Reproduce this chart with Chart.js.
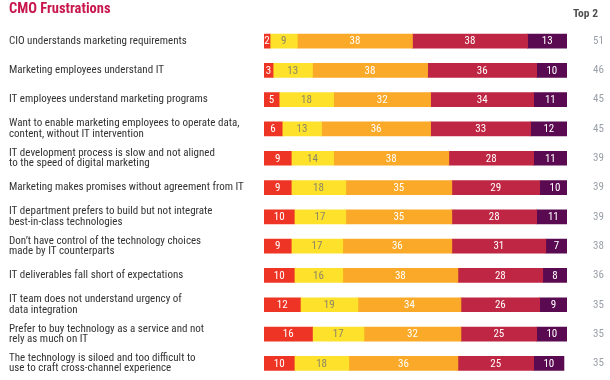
<!DOCTYPE html>
<html>
<head>
<meta charset="utf-8">
<script src="https://cdn.jsdelivr.net/npm/chart.js@4.4.1/dist/chart.umd.min.js"></script>
<style>
  body { margin: 0; background: #fff; }
  #wrap { width: 610px; height: 380px; }
</style>
</head>
<body>
<div id="wrap"><canvas id="cmoChart" width="610" height="380"></canvas></div>
<script>
const categories = [
    'CIO understands marketing requirements',
    'Marketing employees understand IT',
    'IT employees understand marketing programs',
    ['Want to enable marketing employees to operate data,', 'content, without IT intervention'],
    ['IT development process is slow and not aligned', 'to the speed of digital marketing'],
    'Marketing makes promises without agreement from IT',
    ['IT department prefers to build but not integrate', 'best-in-class technologies'],
    ["Don\u2019t have control of the technology choices", 'made by IT counterparts'],
    'IT deliverables fall short of expectations',
    ['IT team does not understand urgency of', 'data integration'],
    ['Prefer to buy technology as a service and not', 'rely as much on IT'],
    ['The technology is siloed and too difficult to', 'use to craft cross-channel experience']
];

const level1 = [2, 3, 5, 6, 9, 9, 10, 9, 10, 12, 16, 10];
const level2 = [9, 13, 18, 13, 14, 18, 17, 17, 16, 19, 17, 18];
const level3 = [38, 38, 32, 36, 38, 35, 35, 36, 38, 34, 32, 36];
const level4 = [38, 36, 34, 33, 28, 29, 28, 31, 28, 26, 25, 25];
const level5 = [13, 10, 11, 12, 11, 10, 11, 7, 8, 9, 10, 10];
const top2 = ['51', '46', '45', '45', '39', '39', '39', '38', '36', '35', '35', '35'];

// condensed face of Roboto, passed through the weight slot of the font string
const FONT = "Roboto, 'DejaVu Sans Condensed', sans-serif";

// segment labels inside the bars
const segmentLabels = {
    id: 'segmentLabels',
    afterDatasetsDraw(chart) {
        const ctx = chart.ctx;
        ctx.save();
        ctx.font = 'condensed 11px ' + FONT;
        ctx.textAlign = 'center';
        ctx.textBaseline = 'middle';
        chart.data.datasets.forEach((ds, i) => {
            const meta = chart.getDatasetMeta(i);
            meta.data.forEach((bar, j) => {
                ctx.fillStyle = ds.labelColor;
                ctx.fillText(ds.data[j], (bar.x + bar.base) / 2, bar.y + 0.5);
            });
        });
        ctx.restore();
    }
};

// "Top 2" header over the right column
const topHeader = {
    id: 'topHeader',
    afterDraw(chart) {
        const ctx = chart.ctx;
        ctx.save();
        ctx.font = 'bold condensed 11.5px ' + FONT;
        ctx.fillStyle = '#505050';
        ctx.textAlign = 'right';
        ctx.textBaseline = 'middle';
        ctx.fillText('Top 2', 598, 14);
        ctx.restore();
    }
};

function makeSet(label, data, color, labelColor) {
    return {
        label: label,
        data: data,
        backgroundColor: color,
        labelColor: labelColor,
        borderWidth: 0,
        barThickness: 14
    };
}

function noPadding(scale, width) {
    scale.width = width;
    scale.paddingTop = 0;
    scale.paddingBottom = 0;
}

new Chart(document.getElementById('cmoChart'), {
    type: 'bar',
    data: {
        labels: categories,
        datasets: [
            makeSet('1', level1, '#ee3424', '#ffffff'),
            makeSet('2', level2, '#fde12b', '#8c8668'),
            makeSet('3', level3, '#faa928', '#ffffff'),
            makeSet('4', level4, '#be2643', '#ffffff'),
            makeSet('5', level5, '#5a0a50', '#ffffff')
        ]
    },
    options: {
        responsive: false,
        devicePixelRatio: 1,
        animation: false,
        indexAxis: 'y',
        layout: { padding: { left: 9, right: 0, top: 0, bottom: 2 } },
        plugins: {
            legend: { display: false },
            tooltip: { enabled: false },
            title: {
                display: true,
                text: 'CMO Frustrations',
                align: 'start',
                color: '#c8174f',
                font: { family: FONT, size: 14.5, weight: 'bold condensed' },
                padding: { top: 1, bottom: 8 }
            }
        },
        scales: {
            x: {
                stacked: true,
                min: 0,
                max: 100,
                display: false
            },
            y: {
                stacked: true,
                position: 'left',
                grid: { display: false },
                border: { display: false },
                ticks: {
                    crossAlign: 'far',
                    color: '#333333',
                    font: { family: FONT, size: 11, weight: 'condensed', lineHeight: 0.95 }
                },
                afterFit(scale) { noPadding(scale, 255); }
            },
            y2: {
                type: 'category',
                position: 'right',
                labels: top2,
                offset: true,
                grid: { display: false },
                border: { display: false },
                ticks: {
                    padding: 18,
                    color: '#9aa0a8',
                    font: { family: FONT, size: 11, weight: 'condensed' }
                },
                afterFit(scale) { noPadding(scale, 43); }
            }
        }
    },
    plugins: [segmentLabels, topHeader]
});
</script>
</body>
</html>
